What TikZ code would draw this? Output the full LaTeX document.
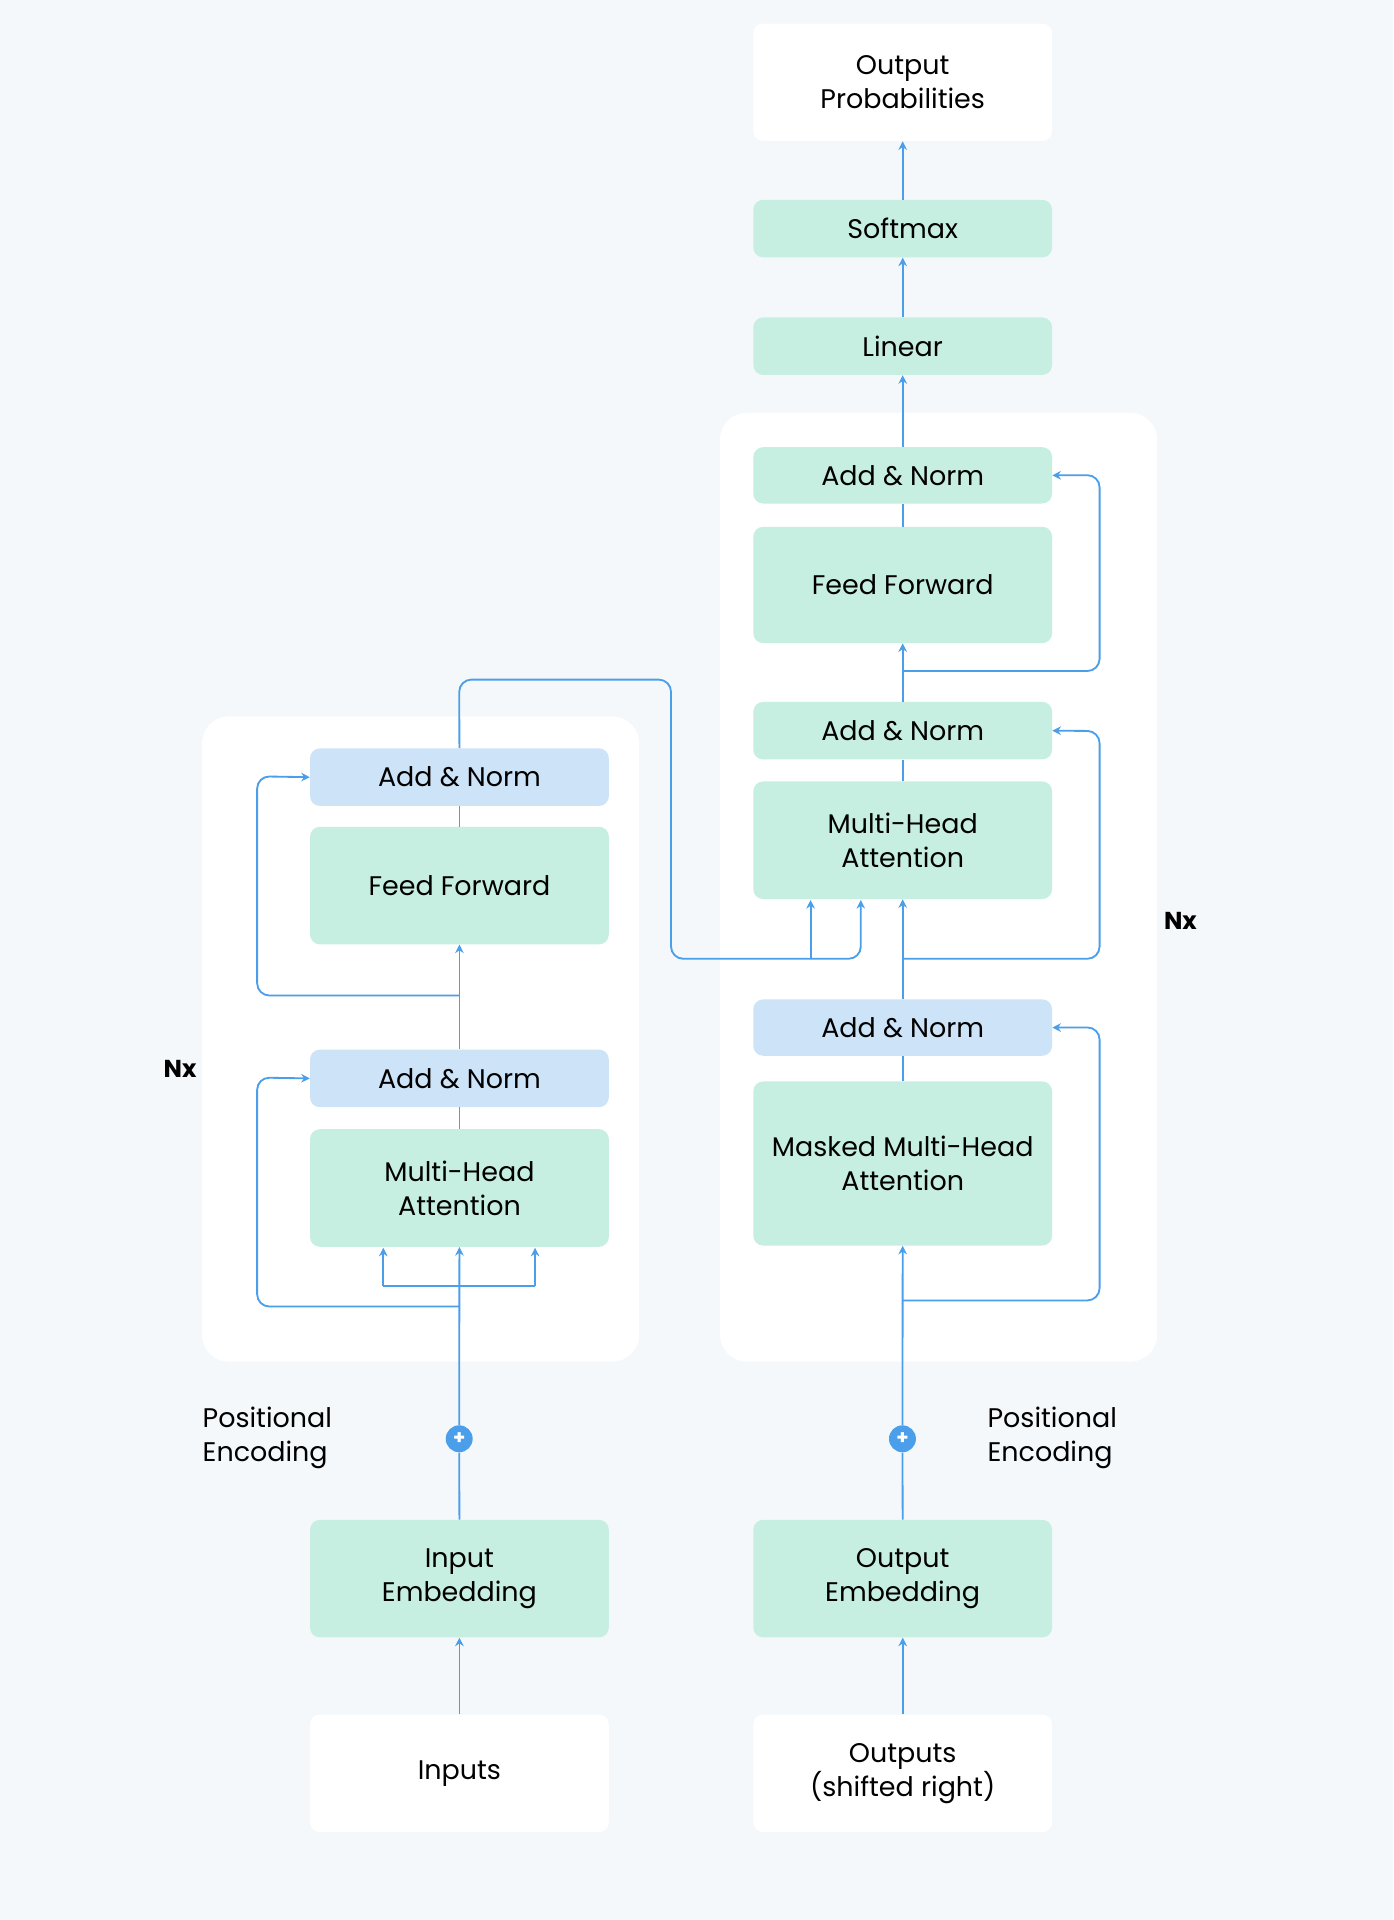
\documentclass[tikz,border=0pt]{standalone}
\usepackage{fontspec}
\setmainfont{Poppins}
\usetikzlibrary{arrows.meta}
\definecolor{bg}{HTML}{F4F8FB}
\definecolor{grn}{HTML}{C6EFE2}
\definecolor{blu}{HTML}{CCE3F8}
\definecolor{ln}{HTML}{4A9EEA}
\begin{document}
\begin{tikzpicture}[x=1pt,y=-1pt,
 box/.style={draw=none,rounded corners=8pt,minimum width=244pt,align=center,font=\fontsize{22}{28}\selectfont,anchor=north west,inner sep=0pt},
 g/.style={box,fill=grn},
 b/.style={box,fill=blu},
 w/.style={box,fill=white},
 c/.style={draw=ln,line width=1.5pt,rounded corners=10pt},
 a/.style={c,-{Stealth[length=7pt,width=7pt]}},
 lbl/.style={font=\fontsize{22}{28}\selectfont,align=left,anchor=west}]
\fill[bg] (0,0) rectangle (1138,1568);
\useasboundingbox (0,0) rectangle (1138,1568);
\fill[white,rounded corners=22pt] (165,585) rectangle (522,1112);
\fill[white,rounded corners=22pt] (588,337) rectangle (945,1112);
% encoder
\node[b,minimum height=47pt] (ean2) at (253,611) {Add \& Norm};
\node[g,minimum height=96pt] (eff) at (253,675) {Feed Forward};
\node[b,minimum height=47pt] (ean1) at (253,857) {Add \& Norm};
\node[g,minimum height=96pt] (emha) at (253,922) {Multi-Head\\Attention};
\node[g,minimum height=96pt] (eemb) at (253,1241) {Input\\Embedding};
\node[w,minimum height=96pt] (ein) at (253,1400) {Inputs};
% decoder
\node[w,minimum height=96pt] (dop) at (615,19) {Output\\Probabilities};
\node[g,minimum height=47pt] (dsm) at (615,163) {Softmax};
\node[g,minimum height=47pt] (dlin) at (615,259) {Linear};
\node[g,minimum height=46pt] (dan3) at (615,365) {Add \& Norm};
\node[g,minimum height=95pt] (dff) at (615,430) {Feed Forward};
\node[g,minimum height=47pt] (dan2) at (615,573) {Add \& Norm};
\node[g,minimum height=96pt] (dmha) at (615,638) {Multi-Head\\Attention};
\node[b,minimum height=46pt] (dan1) at (615,816) {Add \& Norm};
\node[g,minimum height=134pt] (dmm) at (615,883) {Masked Multi-Head\\Attention};
\node[g,minimum height=96pt] (demb) at (615,1241) {Output\\Embedding};
\node[w,minimum height=96pt] (dout) at (615,1400) {Outputs\\(shifted right)};
% plus circles
\node[circle,fill=ln,minimum size=22pt,inner sep=0pt,text=white,font=\bfseries\fontsize{16}{16}\selectfont] (ep) at (375,1175) {+};
\node[circle,fill=ln,minimum size=22pt,inner sep=0pt,text=white,font=\bfseries\fontsize{16}{16}\selectfont] (dp) at (737,1175) {+};
\node[lbl] (pe1) at (162,1174) {Positional\\Encoding};
\node[lbl] (pe2) at (803,1174) {Positional\\Encoding};
\node[font=\bfseries\fontsize{20}{24}\selectfont] (nx1) at (147,873) {Nx};
\node[font=\bfseries\fontsize{20}{24}\selectfont] (nx2) at (964,752) {Nx};
% coordinates
\coordinate (e1) at (375,1067); \coordinate (e2) at (375,1050);
\coordinate (eL) at (313,1050); \coordinate (eR) at (437,1050);
\coordinate (eLt) at (313,1019); \coordinate (eRt) at (437,1019);
\coordinate (e3) at (375,813);
\coordinate (d1) at (737,1062); \coordinate (d2) at (737,783); \coordinate (d3) at (737,548);
\coordinate (m1) at (662,783); \coordinate (m1t) at (662,735); \coordinate (m2t) at (703,735);
% encoder connectors
\draw[a] (ein.north) -- (eemb.south);
\draw[c] (eemb.north) -- (ep.south);
\draw[a] (ep.north) -- (emha.south);
\draw[a,rounded corners=0pt] (eL) -- (eLt);
\draw[a,rounded corners=0pt] (eR) -- (eRt);
\draw[c,rounded corners=0pt] (eL) -- (eR);
\draw[a] (e1) -- (210,1067) -- (210,880) -- (ean1.west);
\draw[c] (emha.north) -- (ean1.south);
\draw[a] (ean1.north) -- (eff.south);
\draw[a] (e3) -- (210,813) -- (210,634) -- (ean2.west);
\draw[c] (eff.north) -- (ean2.south);
\draw[a] (ean2.north) -- (375,555) -- (548,555) -- (548,783) -- (703,783) -- (m2t);
\draw[a,rounded corners=0pt] (m1) -- (m1t);
% decoder connectors
\draw[a] (dout.north) -- (demb.south);
\draw[c] (demb.north) -- (dp.south);
\draw[a] (dp.north) -- (dmm.south);
\draw[a] (d1) -- (898,1062) -- (898,839) -- (dan1.east);
\draw[c] (dmm.north) -- (dan1.south);
\draw[a] (dan1.north) -- (dmha.south);
\draw[a] (d2) -- (898,783) -- (898,597) -- (dan2.east);
\draw[c] (dmha.north) -- (dan2.south);
\draw[a] (dan2.north) -- (dff.south);
\draw[a] (d3) -- (898,548) -- (898,388) -- (dan3.east);
\draw[c] (dff.north) -- (dan3.south);
\draw[a] (dan3.north) -- (dlin.south);
\draw[a] (dlin.north) -- (dsm.south);
\draw[a] (dsm.north) -- (dop.south);
\end{tikzpicture}
\end{document}
